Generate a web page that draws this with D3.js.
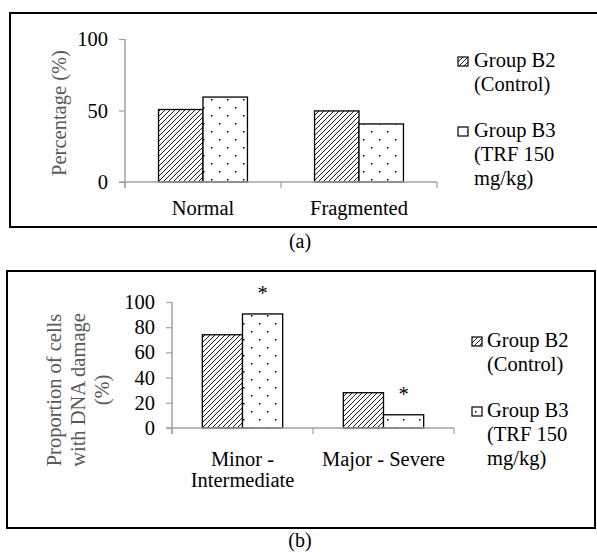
<!DOCTYPE html>
<html lang="en">
  <head>
    <meta charset="UTF-8" />
    <script src="https://d3js.org/d3.v7.min.js"></script>
    <title>Group B2 vs B3</title>
    <style>
      body { margin: 0; background: #fff; }
      svg text { font-family: "Liberation Serif", "DejaVu Serif", serif !important; }
    </style>
  </head>
  <body>
    <div id="chart"></div>
    <script>

    // ---- data ----
    var seriesNames = ["Group B2 (Control)", "Group B3 (TRF 150 mg/kg)"];

    // panel (a)
    var catsA = ["Normal", "Fragmented"];
    var b2A = [50.7, 49.7];
    var b3A = [59.4, 40.6];
    var ticksA = [0, 50, 100];

    // panel (b)
    var catsB = ["Minor - Intermediate", "Major - Severe"];
    var b2B = [74, 28];
    var b3B = [90.5, 10.5];
    var ticksB = [0, 20, 40, 60, 80, 100];
    var starsB = [true, true];   // asterisk over Group B3 bar

    var FONT = "'Liberation Serif', 'DejaVu Serif', serif";

    var svg = d3.select("#chart").append("svg")
        .attr("width", 597)
        .attr("height", 552)
        .attr("font-family", FONT);

    // fill patterns
    var defs = svg.append("defs");
    var hatch = defs.append("pattern")
        .attr("id", "hatch")
        .attr("patternUnits", "userSpaceOnUse")
        .attr("width", 5).attr("height", 5);
    hatch.append("rect").attr("width", 5).attr("height", 5).attr("fill", "#fff");
    hatch.append("path")
        .attr("d", "M0,5 L5,0 M-1,1 L1,-1 M4,6 L6,4")
        .attr("stroke", "#000").attr("stroke-width", 0.9);

    var dots = defs.append("pattern")
        .attr("id", "dots")
        .attr("patternUnits", "userSpaceOnUse")
        .attr("width", 16).attr("height", 16);
    dots.append("rect").attr("width", 16).attr("height", 16).attr("fill", "#fff");
    dots.append("rect").attr("x", 3).attr("y", 3).attr("width", 1.5).attr("height", 1.5).attr("fill", "#000");
    dots.append("rect").attr("x", 11).attr("y", 11).attr("width", 1.5).attr("height", 1.5).attr("fill", "#000");

    var fills = ["url(#hatch)", "url(#dots)"];

    function addText(x, y, str, size, anchor, color) {
      return svg.append("text")
        .attr("x", x).attr("y", y)
        .attr("text-anchor", anchor || "start")
        .attr("fill", color || "#000")
        .style("font-family", FONT)
        .style("font-size", (size || 20.5) + "px")
        .text(str);
    }

    function drawPanel(p) {
      // frame
      svg.append("rect")
        .attr("x", p.box[0]).attr("y", p.box[1])
        .attr("width", p.box[2]).attr("height", p.box[3])
        .attr("fill", "none")
        .attr("stroke", "#000")
        .attr("stroke-width", 2);

      var x = d3.scaleBand()
        .domain(p.cats)
        .range([p.left, p.right])
        .paddingInner(0.43)
        .paddingOuter(0.215);
      var xBand = d3.scaleBand().domain(p.cats).range([p.left, p.right]);
      var x1 = d3.scaleBand().domain([0, 1]).range([0, x.bandwidth()]);

      var y = d3.scaleLinear().domain([0, 100]).range([p.bottom, p.top]);

      // y axis
      var yAxis = svg.append("g")
        .attr("transform", "translate(" + p.left + ",0)")
        .call(d3.axisLeft(y).tickValues(p.ticks).tickSize(6).tickPadding(11));
      yAxis.attr("font-family", FONT);
      yAxis.select(".domain").attr("stroke", "#a0a0a0").attr("stroke-width", 1.5)
        .attr("d", "M0," + p.top + "V" + (p.bottom + 6));
      yAxis.selectAll(".tick line").attr("stroke", "#a0a0a0").attr("stroke-width", 1.2);
      yAxis.selectAll(".tick text")
        .attr("fill", "#000")
        .style("font-size", "20.5px")
        .style("font-family", FONT);

      // bars
      var rows = p.cats.map(function(c, i) { return { cat: c, vals: [p.b2[i], p.b3[i]] }; });
      rows.forEach(function(r) {
        svg.append("g").selectAll("rect")
          .data(r.vals)
          .enter().append("rect")
            .attr("x", function(d, j) { return x(r.cat) + x1(j); })
            .attr("y", function(d) { return y(d); })
            .attr("width", x1.bandwidth())
            .attr("height", function(d) { return y(0) - y(d); })
            .attr("fill", function(d, j) { return fills[j]; })
            .attr("stroke", "#000")
            .attr("stroke-width", 1.3);
      });

      // x axis (ticks between categories)
      var xa = svg.append("g");
      xa.append("line")
        .attr("x1", p.left - 6).attr("x2", p.right)
        .attr("y1", p.bottom).attr("y2", p.bottom)
        .attr("stroke", "#a0a0a0").attr("stroke-width", 1.5);
      var bounds = [p.left].concat(p.cats.map(function(c) { return xBand(c) + xBand.bandwidth(); }));
      xa.selectAll(".xt")
        .data(bounds)
        .enter().append("line")
          .attr("x1", function(d) { return d; }).attr("x2", function(d) { return d; })
          .attr("y1", p.bottom).attr("y2", p.bottom + 6)
          .attr("stroke", "#a0a0a0").attr("stroke-width", 1.2);

      // category labels, one text per line
      p.cats.forEach(function(c, i) {
        p.catLines[i].forEach(function(l, k) {
          addText(x(c) + x.bandwidth() / 2, p.catY + k * 21, l, 20.5, "middle");
        });
      });

      // significance marks
      if (p.stars) {
        p.stars.forEach(function(s, i) {
          if (!s) return;
          var cx = x(p.cats[i]) + x1(1) + x1.bandwidth() / 2;
          addText(cx, y(p.b3[i]) - 14, "*", 20.5, "middle");
        });
      }

      // y axis title
      var yt = svg.append("text")
        .attr("transform", "translate(" + p.ytX + "," + p.ytY + ") rotate(-90)")
        .attr("text-anchor", "middle")
        .attr("fill", "#595959")
        .style("font-family", FONT)
        .style("font-size", "20.5px");
      p.yTitle.forEach(function(l, k) {
        yt.append("tspan")
          .attr("x", 0)
          .attr("dy", k === 0 ? -(p.yTitle.length - 1) * 12 + 7 : 24)
          .text(l);
      });

      // legend
      var legLines = [["Group B2", "(Control)"], ["Group B3", "(TRF 150", "mg/kg)"]];
      legLines.forEach(function(ls, j) {
        var by = p.legY[j];
        svg.append("rect")
          .attr("x", p.legX).attr("y", by - 10)
          .attr("width", 10).attr("height", 9)
          .attr("fill", fills[j])
          .attr("stroke", "#000").attr("stroke-width", 1.2);
        ls.forEach(function(l, k) {
          addText(p.legX + p.legGap, by + k * 24, l, 20.5, "start");
        });
      });

      // caption
      addText(300, p.capY, p.caption, 20, "middle");
    }

    drawPanel({
      box: [10, 13, 600, 214],
      left: 125, right: 437, top: 39, bottom: 182,
      cats: catsA, b2: b2A, b3: b3A, ticks: ticksA,
      catLines: [["Normal"], ["Fragmented"]], catY: 215,
      yTitle: ["Percentage (%)"], ytX: 59, ytY: 113,
      legX: 458, legGap: 16, legY: [67, 137],
      caption: "(a)", capY: 248
    });

    drawPanel({
      box: [7, 271, 588, 257],
      left: 172, right: 454, top: 302, bottom: 428,
      cats: catsB, b2: b2B, b3: b3B, ticks: ticksB, stars: starsB,
      catLines: [["Minor -", "Intermediate"], ["Major - Severe"]], catY: 466,
      yTitle: ["Proportion of cells", "with DNA damage", "(%)"], ytX: 78, ytY: 390,
      legX: 472, legGap: 15, legY: [347, 417],
      caption: "(b)", capY: 547
    });

    </script>
  </body>
</html>
